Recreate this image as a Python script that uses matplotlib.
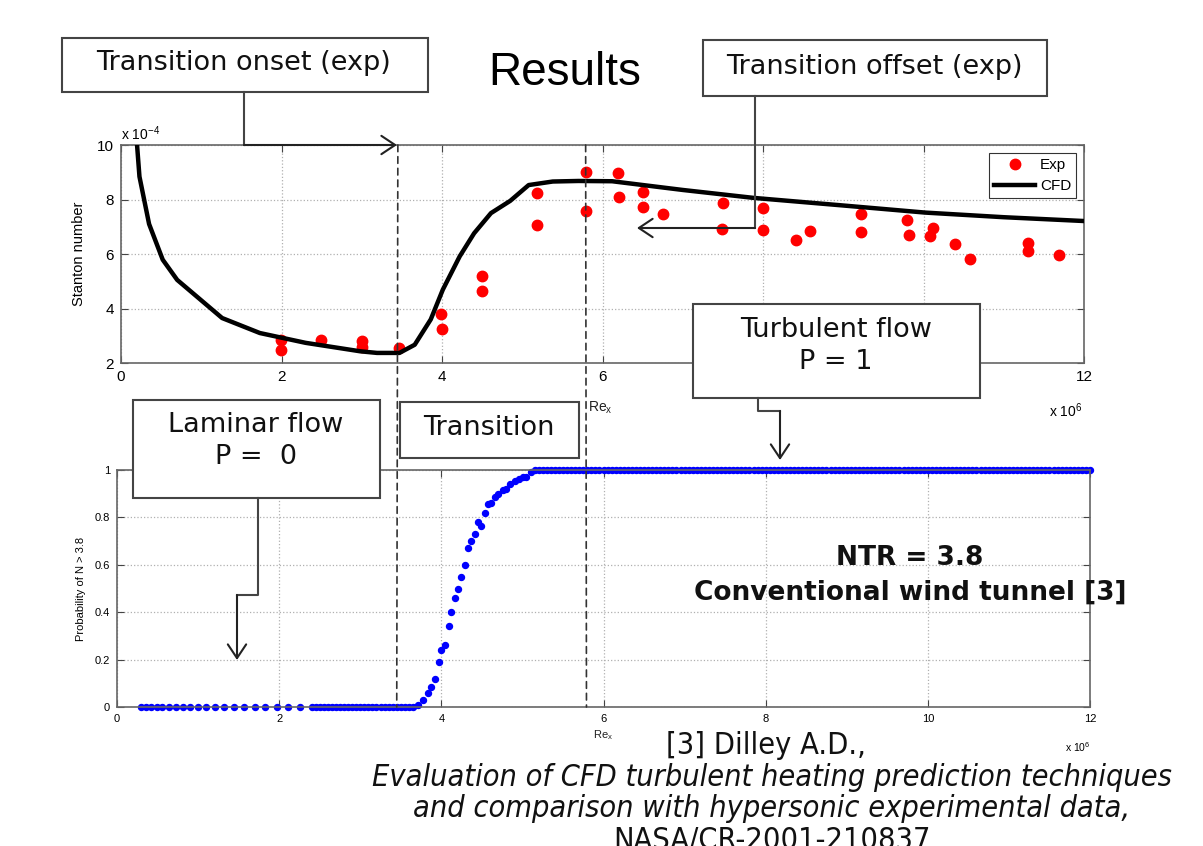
import matplotlib.pyplot as plt
from matplotlib.patches import Rectangle, ConnectionPatch, FancyArrowPatch
from matplotlib.lines import Line2D
import numpy as np

# top panel: Stanton number (x 1e-4) vs Re_x (x 1e6)
cfd_re = [0.2, 0.23, 0.35, 0.52, 0.70, 1.0, 1.26, 1.73, 2.3, 2.98, 3.19, 3.47, 3.66, 3.86,
          4.01, 4.22, 4.40, 4.61, 4.85, 5.08, 5.38, 5.7, 6.12, 7.0, 7.88, 9.0, 10.02, 11.0, 12.0]
cfd_st = [10.0, 8.84, 7.1, 5.79, 5.05, 4.3, 3.65, 3.1, 2.74, 2.43, 2.37, 2.37, 2.67, 3.6,
          4.69, 5.91, 6.76, 7.5, 7.95, 8.53, 8.66, 8.68, 8.67, 8.35, 8.06, 7.78, 7.52, 7.35, 7.21]

exp_re = [1.99, 1.99, 2.49, 3.0, 3.0, 3.47, 3.99, 4.0, 4.5, 4.5, 5.18, 5.18, 5.79, 5.79,
          6.19, 6.21, 6.51, 6.51, 6.76, 7.50, 7.49, 8.0, 8.0, 8.41, 8.59, 9.22, 9.22,
          9.79, 9.82, 10.08, 10.12, 10.39, 10.58, 11.30, 11.30, 11.69]
exp_st = [2.86, 2.49, 2.83, 2.82, 2.6, 2.55, 3.8, 3.25, 5.18, 4.63, 8.23, 7.06, 9.0, 7.56,
          8.99, 8.08, 8.28, 7.72, 7.48, 7.88, 6.91, 7.70, 6.87, 6.51, 6.85, 7.48, 6.79,
          7.24, 6.70, 6.67, 6.97, 6.36, 5.82, 6.39, 6.12, 5.96]

# bottom panel: probability of N > 3.8
lam_x = [0.29, 0.36, 0.42, 0.49, 0.56, 0.64, 0.73, 0.81, 0.90, 1.00, 1.10, 1.21, 1.32,
         1.44, 1.57, 1.70, 1.83, 1.97, 2.11, 2.26,
         2.40, 2.45, 2.50, 2.55, 2.60, 2.65, 2.70, 2.75, 2.80, 2.85, 2.90, 2.95, 3.00,
         3.05, 3.10, 3.15, 3.20, 3.25, 3.30, 3.35, 3.40, 3.45, 3.50, 3.55, 3.60, 3.65]
trans_x = [3.71, 3.77, 3.83, 3.87, 3.92, 3.97, 4.00, 4.04, 4.09, 4.12, 4.17, 4.21, 4.24,
           4.29, 4.33, 4.36, 4.41, 4.45, 4.49, 4.54, 4.57, 4.61, 4.66, 4.70, 4.76, 4.80,
           4.85, 4.91, 4.96, 5.01, 5.05, 5.11, 5.15]
trans_p = [0.008, 0.03, 0.06, 0.085, 0.12, 0.19, 0.24, 0.26, 0.34, 0.40, 0.46, 0.50, 0.55,
           0.60, 0.67, 0.70, 0.73, 0.78, 0.765, 0.82, 0.855, 0.86, 0.885, 0.90, 0.915, 0.92,
           0.94, 0.955, 0.96, 0.97, 0.97, 0.99, 1.0]
turb_x = [5.20, 5.25, 5.30, 5.35, 5.40, 5.45, 5.50, 5.55, 5.60, 5.65,
          5.70, 5.75, 5.80, 5.85, 5.90, 5.95, 6.00, 6.05, 6.10, 6.15,
          6.20, 6.25, 6.30, 6.35, 6.40, 6.45, 6.50, 6.55, 6.60, 6.65,
          6.70, 6.75, 6.80, 6.85, 6.90, 6.95, 7.00, 7.05, 7.10, 7.15,
          7.20, 7.25, 7.30, 7.35, 7.40, 7.45, 7.50, 7.55, 7.60, 7.65,
          7.70, 7.75, 7.80, 7.85, 7.90, 7.95, 8.00, 8.05, 8.10, 8.15,
          8.20, 8.25, 8.30, 8.35, 8.40, 8.45, 8.50, 8.55, 8.60, 8.65,
          8.70, 8.75, 8.80, 8.85, 8.90, 8.95, 9.00, 9.05, 9.10, 9.15,
          9.20, 9.25, 9.30, 9.35, 9.40, 9.45, 9.50, 9.55, 9.60, 9.65,
          9.70, 9.75, 9.80, 9.85, 9.90, 9.95, 10.00, 10.05, 10.10, 10.15,
          10.20, 10.25, 10.30, 10.35, 10.40, 10.45, 10.50, 10.55, 10.60, 10.65,
          10.70, 10.75, 10.80, 10.85, 10.90, 10.95, 11.00, 11.05, 11.10, 11.15,
          11.20, 11.25, 11.30, 11.35, 11.40, 11.45, 11.50, 11.55, 11.60, 11.65,
          11.70, 11.75, 11.80, 11.85, 11.90, 11.95, 12.00]

onset_re = 3.45
offset_re = 5.79

W, H = 1203, 846
def fx(x):
    return x / W
def fy(y):
    return 1 - y / H

fig = plt.figure(figsize=(W / 100, H / 100), dpi=100)
ax1 = fig.add_axes([fx(121), fy(363), (1084 - 121) / W, (363 - 145) / H])
ax2 = fig.add_axes([fx(117), fy(707), (1090 - 117) / W, (707 - 470) / H])

axfont = 'Liberation Sans'

# --- top plot
ax1.plot(exp_re, exp_st, 'o', color='red', markersize=7.5, label='Exp', zorder=3)
ax1.plot(cfd_re, cfd_st, '-', color='black', lw=3.2, label='CFD', zorder=4)
ax1.set_xlim(0, 12)
ax1.set_ylim(2, 10)
ax1.set_xticks([0, 2, 4, 6, 8, 10, 12])
ax1.set_yticks([2, 4, 6, 8, 10])
ax1.set_xticklabels(['0', '2', '4', '6', '8', '10', '12'], family=axfont, fontsize=11)
ax1.set_yticklabels(['2', '4', '6', '8', '10'], family=axfont, fontsize=11)
ax1.set_ylabel('Stanton number', family=axfont, fontsize=10.5, labelpad=8)
ax1.text(0.0, 1.01, 'x 10$^{\\mathregular{-4}}$', transform=ax1.transAxes, family=axfont,
         fontsize=10, ha='left', va='bottom')
ax1.text(0.485, -0.17, 'Re$_{\\mathregular{x}}$', transform=ax1.transAxes, family=axfont,
         fontsize=10, ha='left', va='top', color='#222')
ax1.text(0.998, -0.22, 'x 10$^{\\mathregular{6}}$', transform=ax1.transAxes, family=axfont,
         fontsize=10, ha='right', va='center')
leg = ax1.legend(loc='upper right', fancybox=False, edgecolor='black', borderaxespad=0.5,
                 handlelength=2.7, handletextpad=0.3, labelspacing=0.45, borderpad=0.35,
                 prop={'family': axfont, 'size': 11})
leg.get_frame().set_linewidth(0.8)

# --- bottom plot
ax2.plot(lam_x, np.zeros(len(lam_x)), 'o', color='blue', markersize=4.3, clip_on=False)
ax2.plot(trans_x, trans_p, 'o', color='blue', markersize=4.3, clip_on=False)
ax2.plot(turb_x, np.ones(len(turb_x)), 'o', color='blue', markersize=4.3, clip_on=False)
ax2.set_xlim(0, 12)
ax2.set_ylim(0, 1)
ax2.set_xticks([0, 2, 4, 6, 8, 10, 12])
ax2.set_yticks([0, 0.2, 0.4, 0.6, 0.8, 1])
ax2.set_xticklabels(['0', '2', '4', '6', '8', '10', '12'], family=axfont, fontsize=8)
ax2.set_yticklabels(['0', '0.2', '0.4', '0.6', '0.8', '1'], family=axfont, fontsize=8)
ax2.set_ylabel('Probability of N > 3.8', family=axfont, fontsize=8, labelpad=6)
ax2.text(0.5, -0.09, 'Re$_{\\mathregular{x}}$', transform=ax2.transAxes, family=axfont,
         fontsize=8, ha='center', va='top', color='#222')
ax2.text(1.0, -0.17, 'x 10$^{\\mathregular{6}}$', transform=ax2.transAxes, family=axfont,
         fontsize=7.5, ha='right', va='center')

for ax in (ax1, ax2):
    ax.grid(True, ls=':', color='#b0b0b0', lw=0.9)
    ax.set_axisbelow(True)
    ax.tick_params(direction='in', top=True, right=True, length=5, color='#444', pad=5)
    for s in ax.spines.values():
        s.set_color('#666')
        s.set_linewidth(1.2)

# dashed lines for transition onset / offset across both panels
for xr in (onset_re, offset_re):
    cp = ConnectionPatch(xyA=(xr, 10), coordsA=ax1.transData, xyB=(xr, 0), coordsB=ax2.transData,
                         ls=(0, (4, 3)), color='#333', lw=1.2, zorder=4)
    fig.add_artist(cp)

# --- annotation boxes and arrows (slide overlay)
def box(x0, y0, x1, y1):
    fig.add_artist(Rectangle((fx(x0), fy(y1)), fx(x1) - fx(x0), fy(y0) - fy(y1),
                             transform=fig.transFigure, fc='white', ec='#444', lw=1.5, zorder=5))

def label(x, y, s, **kw):
    fig.text(fx(x), fy(y), s, ha='center', va='center', family='DejaVu Sans',
             fontsize=kw.pop('fontsize', 19.5), zorder=6, color='#111', **kw)

def path(xs, ys):
    fig.add_artist(Line2D([fx(v) for v in xs], [fy(v) for v in ys], transform=fig.transFigure,
                          color='#444', lw=1.5, zorder=5))

def arrow(x0, y0, x1, y1):
    fig.add_artist(FancyArrowPatch((fx(x0), fy(y0)), (fx(x1), fy(y1)), transform=fig.transFigure,
                                   arrowstyle='->,head_length=0.45,head_width=0.3', mutation_scale=22,
                                   lw=1.5, color='#222', shrinkA=0, shrinkB=0, zorder=5))

box(62, 38, 428, 92)
label(244, 63, 'Transition onset (exp)')
path([244, 244], [92, 145])
arrow(244, 145, 397, 145)

box(703, 40, 1047, 96)
label(874, 67, 'Transition offset (exp)')
path([755, 755], [96, 228])
arrow(755, 228, 637, 228)

box(693, 304, 980, 398)
label(836, 330, 'Turbulent flow')
label(836, 362, 'P = 1')
path([758, 758, 780], [398, 411, 411])
arrow(780, 411, 780, 460)

box(133, 400, 380, 498)
label(256, 425, 'Laminar flow')
label(256, 457, 'P =  0')
path([258, 258, 237], [498, 595, 595])
arrow(237, 595, 237, 660)

box(400, 402, 579, 458)
label(489, 428, 'Transition')

fig.text(fx(565), fy(73), 'Results', family=axfont, fontsize=33, ha='center', va='center')

label(910, 558, 'NTR = 3.8', fontsize=19, fontweight='bold')
label(910, 593, 'Conventional wind tunnel [3]', fontsize=19, fontweight='bold')

label(766, 745, '[3] Dilley A.D.,', fontsize=22, fontstretch='condensed')
label(772, 777, 'Evaluation of CFD turbulent heating prediction techniques', fontsize=22,
      style='italic', fontstretch='condensed')
label(772, 808, 'and comparison with hypersonic experimental data,', fontsize=22,
      style='italic', fontstretch='condensed')
label(772, 840, 'NASA/CR-2001-210837', fontsize=22, fontstretch='condensed')

fig.savefig('out.png', dpi=100)
